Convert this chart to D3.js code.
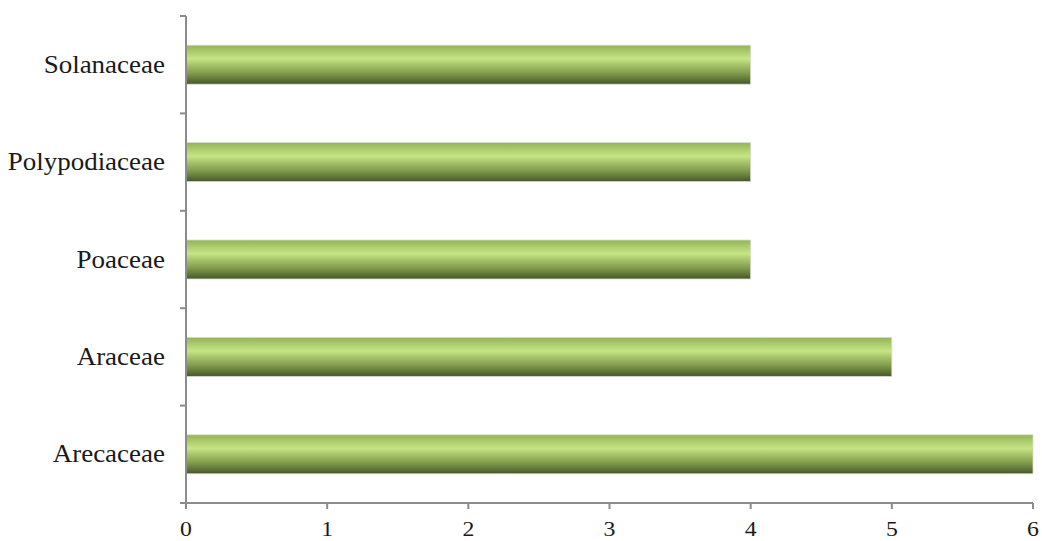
<!DOCTYPE html>
<html>
<head>
<meta charset="utf-8">
<script src="https://cdn.jsdelivr.net/npm/d3@7"></script>
<style>
  html, body { margin: 0; padding: 0; background: #fff; }
  svg { display: block; }
  text { font-family: "Liberation Serif", "Times New Roman", serif; fill: #1a1a1a; }
</style>
</head>
<body>
<svg id="chart" width="1042" height="541"></svg>
<script>
// Plant families and number of species in each
const families = ["Arecaceae", "Araceae", "Poaceae", "Polypodiaceae", "Solanaceae"];
const counts = [6, 5, 4, 4, 4];
const xTicks = [0, 1, 2, 3, 4, 5, 6];

const svg = d3.select("#chart");
const margin = { left: 186, right: 9, top: 16, bottom: 38 };
const W = 1042, H = 541;
const stretch = 1.08; // slightly wide lettering

const x = d3.scaleLinear().domain([0, 6]).range([margin.left, W - margin.right]);
const y = d3.scaleBand().domain(families).range([H - margin.bottom, margin.top]).paddingInner(0.6).paddingOuter(0.3);

// Cylinder-like vertical shading for the bars
const defs = svg.append("defs");
const grad = defs.append("linearGradient").attr("id", "barShade")
  .attr("x1", 0).attr("y1", 0).attr("x2", 0).attr("y2", 1);
[
  [0, "#93b457"], [0.15, "#a9c96a"], [0.35, "#c6e585"], [0.5, "#a8c56b"],
  [0.7, "#859f4f"], [0.88, "#5f7538"], [1, "#45552a"]
].forEach(([o, c]) => grad.append("stop").attr("offset", o).attr("stop-color", c));

svg.append("g").selectAll("rect")
  .data(families.map((f, i) => ({ f, v: counts[i] })))
  .join("rect")
  .attr("x", x(0))
  .attr("y", d => y(d.f))
  .attr("width", d => x(d.v) - x(0))
  .attr("height", y.bandwidth())
  .attr("fill", "url(#barShade)")
  .attr("stroke", "#d8dccf")
  .attr("stroke-width", 0.8);

// Category axis: ticks on band boundaries
const yAxis = svg.append("g").attr("transform", `translate(${margin.left},0)`);
yAxis.append("line")
  .attr("x1", 0).attr("x2", 0).attr("y1", margin.top).attr("y2", H - margin.bottom)
  .attr("stroke", "#8c8c8c").attr("stroke-width", 2);
const bounds = d3.range(families.length + 1).map(i => margin.top + (H - margin.bottom - margin.top) * i / families.length);
yAxis.selectAll("line.tick").data(bounds).join("line").attr("class", "tick")
  .attr("x1", -6).attr("x2", 0).attr("y1", d => d).attr("y2", d => d)
  .attr("stroke", "#8c8c8c").attr("stroke-width", 2);
yAxis.selectAll("text").data(families).join("text")
  .attr("transform", d => `translate(-21,${y(d) + y.bandwidth() / 2}) scale(${stretch},1)`)
  .attr("text-anchor", "end").attr("dominant-baseline", "central")
  .attr("font-size", 25).text(d => d);

// Value axis
const xAxis = svg.append("g").attr("transform", `translate(0,${H - margin.bottom})`);
xAxis.append("line")
  .attr("x1", margin.left - 6).attr("x2", x(6)).attr("y1", 0).attr("y2", 0)
  .attr("stroke", "#8c8c8c").attr("stroke-width", 2);
xAxis.selectAll("line.tick").data(xTicks).join("line").attr("class", "tick")
  .attr("x1", d => x(d)).attr("x2", d => x(d)).attr("y1", 0).attr("y2", 6)
  .attr("stroke", "#8c8c8c").attr("stroke-width", 2);
xAxis.selectAll("text").data(xTicks).join("text")
  .attr("transform", d => `translate(${x(d)},26) scale(${stretch},1)`)
  .attr("text-anchor", "middle").attr("dominant-baseline", "central")
  .attr("font-size", 22).text(d => d);
</script>
</body>
</html>
